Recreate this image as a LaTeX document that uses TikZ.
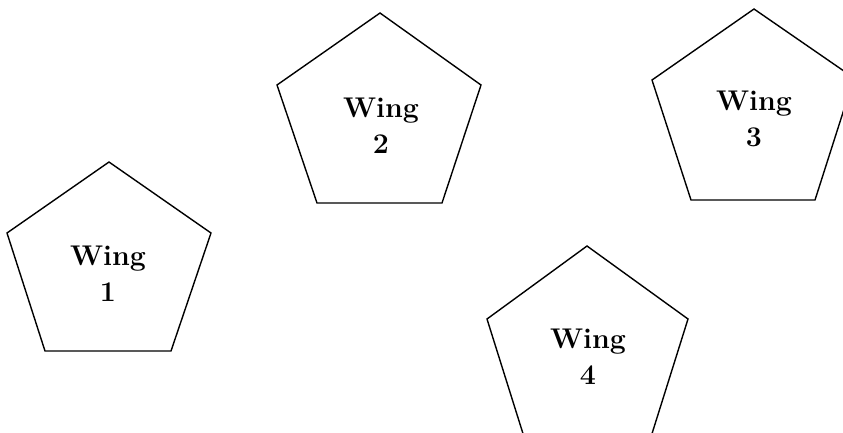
\documentclass[tikz,border=0pt]{standalone}
\begin{document}
\begin{tikzpicture}[x=1pt,y=-1pt,
  wingedge/.style={draw=black,line width=1.4pt,line join=miter},
  winglabel/.style={inner sep=0pt,align=center,font=\bfseries\fontsize{28.5}{36}\selectfont}]
\useasboundingbox[fill=white] (0,0) rectangle (843,432);
\begin{scope}
\clip (0,0) rectangle (843,432);
\draw[wingedge] (109,162) -- (211,233) -- (171,351) -- (45,351) -- (7,233) -- cycle;
\draw[wingedge] (380,13) -- (481,85) -- (442,203) -- (317,203) -- (277,85) -- cycle;
\draw[wingedge] (754,9) -- (854,78) -- (815,200) -- (691,200) -- (652,80) -- cycle;
\draw[wingedge] (587,246) -- (688,319) -- (650,440) -- (525,440) -- (487,319) -- cycle;
\end{scope}
\node[winglabel] (w1) at (108,273.5) {Wing\\1};
\node[winglabel] (w2) at (381,126) {Wing\\2};
\node[winglabel] (w3) at (754,119) {Wing\\3};
\node[winglabel] (w4) at (588,357) {Wing\\4};
\end{tikzpicture}
\end{document}
